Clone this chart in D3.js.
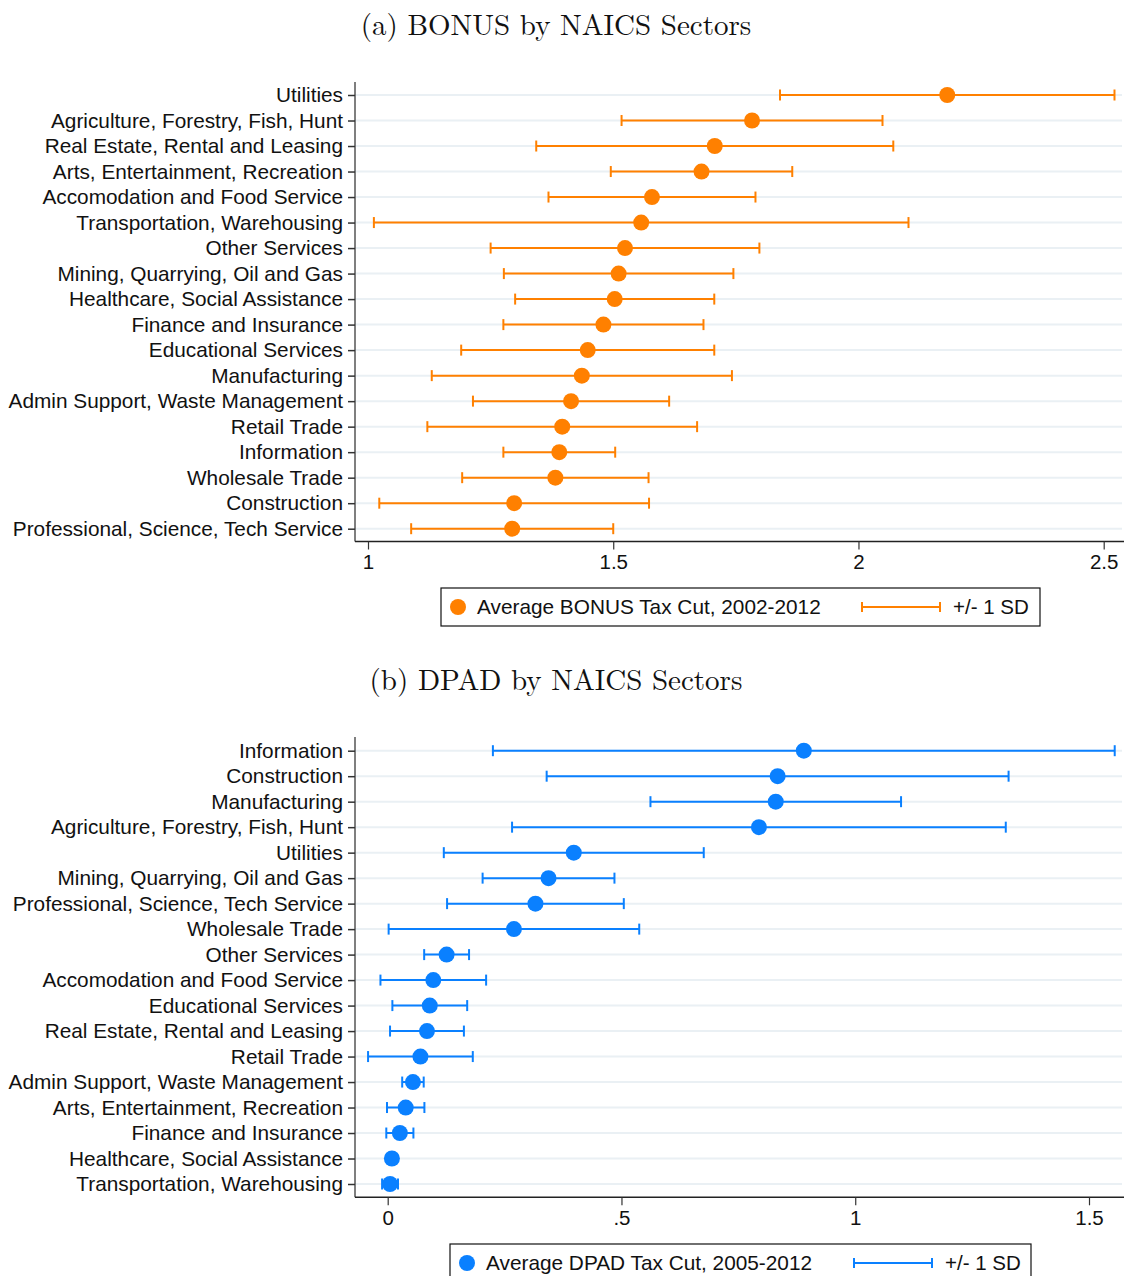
<!DOCTYPE html>
<html>
<head>
<meta charset="utf-8">
<script src="https://cdn.jsdelivr.net/npm/d3@7"></script>
<style>
  html, body { margin: 0; padding: 0; background: #fff; }
  svg { display: block; }
</style>
</head>
<body>
<svg id="chart" width="1124" height="1276"></svg>
<script>
// BONUS: sectors ordered top to bottom, mean tax cut and its standard deviation
const bonusSectors = [
  "Utilities", "Agriculture, Forestry, Fish, Hunt", "Real Estate, Rental and Leasing",
  "Arts, Entertainment, Recreation", "Accomodation and Food Service", "Transportation, Warehousing",
  "Other Services", "Mining, Quarrying, Oil and Gas", "Healthcare, Social Assistance",
  "Finance and Insurance", "Educational Services", "Manufacturing",
  "Admin Support, Waste Management", "Retail Trade", "Information",
  "Wholesale Trade", "Construction", "Professional, Science, Tech Service"
];
const bonusMean = [2.181, 1.783, 1.707, 1.680, 1.579, 1.557, 1.524, 1.511, 1.503,
                   1.480, 1.448, 1.436, 1.414, 1.396, 1.390, 1.382, 1.298, 1.294];
const bonusSD   = [0.341, 0.266, 0.364, 0.185, 0.211, 0.545, 0.274, 0.234, 0.203,
                   0.204, 0.258, 0.306, 0.200, 0.275, 0.114, 0.190, 0.275, 0.206];
const bonusTicks = [1, 1.5, 2, 2.5];

// DPAD: sectors ordered top to bottom, mean tax cut and its standard deviation
const dpadSectors = [
  "Information", "Construction", "Manufacturing", "Agriculture, Forestry, Fish, Hunt",
  "Utilities", "Mining, Quarrying, Oil and Gas", "Professional, Science, Tech Service",
  "Wholesale Trade", "Other Services", "Accomodation and Food Service",
  "Educational Services", "Real Estate, Rental and Leasing", "Retail Trade",
  "Admin Support, Waste Management", "Arts, Entertainment, Recreation",
  "Finance and Insurance", "Healthcare, Social Assistance", "Transportation, Warehousing"
];
const dpadMean = [0.890, 0.834, 0.830, 0.794, 0.398, 0.344, 0.316, 0.270, 0.126,
                  0.0975, 0.090, 0.084, 0.070, 0.054, 0.0385, 0.026, 0.009, 0.005];
const dpadSD   = [0.665, 0.494, 0.268, 0.528, 0.278, 0.141, 0.189, 0.268, 0.048,
                  0.113, 0.080, 0.079, 0.112, 0.023, 0.040, 0.029, 0.000, 0.017];
const dpadTicks = [0, 0.5, 1, 1.5];

const svg = d3.select("#chart");
const labelFont = "'Liberation Sans', Arial, sans-serif";
const titleFont = "'Latin Modern Roman', 'CMU Serif', 'Liberation Serif', 'DejaVu Serif', serif";

function panel(cfg) {
  const g = svg.append("g");
  const x = d3.scaleLinear().domain(cfg.domain).range(cfg.xRange);
  const y = d3.scalePoint().domain(cfg.sectors).range(cfg.yRange);
  const left = 355, right = 1122;

  // title
  g.append("text")
    .attr("x", 556).attr("y", cfg.titleY)
    .attr("text-anchor", "middle")
    .attr("font-family", titleFont)
    .attr("font-size", 29)
    .attr("fill", "#111")
    .text(cfg.title);

  // horizontal grid lines per sector
  g.append("g").selectAll("line").data(cfg.sectors).join("line")
    .attr("x1", left).attr("x2", right)
    .attr("y1", d => y(d)).attr("y2", d => y(d))
    .attr("stroke", "#eaf0f4").attr("stroke-width", 2);

  const rows = cfg.sectors.map((s, i) => ({ s, m: cfg.mean[i], sd: cfg.sd[i] }));

  // error bars: mean +/- 1 SD with end caps
  const eb = g.append("g").attr("stroke", cfg.color).attr("stroke-width", 2);
  eb.selectAll("line.bar").data(rows).join("line").attr("class", "bar")
    .attr("x1", d => x(d.m - d.sd)).attr("x2", d => x(d.m + d.sd))
    .attr("y1", d => y(d.s)).attr("y2", d => y(d.s));
  eb.selectAll("line.lo").data(rows).join("line").attr("class", "lo")
    .attr("x1", d => x(d.m - d.sd)).attr("x2", d => x(d.m - d.sd))
    .attr("y1", d => y(d.s) - 5.5).attr("y2", d => y(d.s) + 5.5);
  eb.selectAll("line.hi").data(rows).join("line").attr("class", "hi")
    .attr("x1", d => x(d.m + d.sd)).attr("x2", d => x(d.m + d.sd))
    .attr("y1", d => y(d.s) - 5.5).attr("y2", d => y(d.s) + 5.5);

  // mean markers
  g.append("g").selectAll("circle").data(rows).join("circle")
    .attr("cx", d => x(d.m)).attr("cy", d => y(d.s)).attr("r", 8)
    .attr("fill", cfg.color);

  // left axis with sector names
  const ya = g.append("g").attr("transform", `translate(${left},0)`)
    .call(d3.axisLeft(y).tickSize(7).tickPadding(5));
  ya.select(".domain").attr("stroke", "#555").attr("stroke-width", 1.5)
    .attr("d", `M0,${cfg.axisTop}V${cfg.axisBottom}`);
  ya.selectAll(".tick line").attr("stroke", "#333").attr("stroke-width", 1.5);
  ya.selectAll(".tick text").attr("font-family", labelFont).attr("font-size", 20.8)
    .attr("fill", "#111");

  // bottom axis
  const xa = g.append("g").attr("transform", `translate(0,${cfg.axisBottom})`)
    .call(d3.axisBottom(x).tickValues(cfg.ticks).tickSize(8).tickPadding(5)
      .tickFormat(cfg.fmt));
  xa.select(".domain").attr("stroke", "#222").attr("stroke-width", 1.5)
    .attr("d", `M${left},0H1124`);
  xa.selectAll(".tick line").attr("stroke", "#333").attr("stroke-width", 1.2);
  xa.selectAll(".tick text").attr("font-family", labelFont).attr("font-size", 20.5)
    .attr("fill", "#111");

  // legend
  const lg = g.append("g");
  lg.append("rect").attr("x", cfg.leg.x0).attr("y", cfg.leg.y0)
    .attr("width", cfg.leg.x1 - cfg.leg.x0).attr("height", 38)
    .attr("fill", "#fff").attr("stroke", "#111").attr("stroke-width", 1.2);
  const ly = cfg.leg.y0 + 19;
  lg.append("circle").attr("cx", cfg.leg.x0 + 17).attr("cy", ly).attr("r", 8)
    .attr("fill", cfg.color);
  lg.append("text").attr("x", cfg.leg.x0 + 36).attr("y", ly + 7)
    .attr("font-family", labelFont).attr("font-size", 20.8).attr("fill", "#111")
    .text(cfg.legendText);
  const bx0 = cfg.leg.bar, bx1 = cfg.leg.bar + 78;
  const lb = lg.append("g").attr("stroke", cfg.color).attr("stroke-width", 2);
  lb.append("line").attr("x1", bx0).attr("x2", bx1).attr("y1", ly).attr("y2", ly);
  lb.append("line").attr("x1", bx0).attr("x2", bx0).attr("y1", ly - 5).attr("y2", ly + 5);
  lb.append("line").attr("x1", bx1).attr("x2", bx1).attr("y1", ly - 5).attr("y2", ly + 5);
  lg.append("text").attr("x", bx1 + 13).attr("y", ly + 7)
    .attr("font-family", labelFont).attr("font-size", 20.5).attr("fill", "#111")
    .text("+/- 1 SD");
}

panel({
  title: "(a) BONUS by NAICS Sectors", titleY: 35,
  sectors: bonusSectors, mean: bonusMean, sd: bonusSD,
  domain: [1, 2.5], xRange: [368, 1103.7], yRange: [95, 528.7],
  axisTop: 82, axisBottom: 541.5, ticks: bonusTicks, fmt: d3.format(""),
  color: "#ff8000",
  legendText: "Average BONUS Tax Cut, 2002-2012",
  leg: { x0: 441, x1: 1040, y0: 588, bar: 862 }
});

panel({
  title: "(b) DPAD by NAICS Sectors", titleY: 690,
  sectors: dpadSectors, mean: dpadMean, sd: dpadSD,
  domain: [0, 1.5], xRange: [387.7, 1089], yRange: [750.7, 1184],
  axisTop: 737, axisBottom: 1197.3, ticks: dpadTicks,
  fmt: d => d === 0 ? "0" : d3.format("")(d).replace(/^0\./, "."),
  color: "#0a80ff",
  legendText: "Average DPAD Tax Cut, 2005-2012",
  leg: { x0: 450, x1: 1031, y0: 1244, bar: 854 }
});
</script>
</body>
</html>
